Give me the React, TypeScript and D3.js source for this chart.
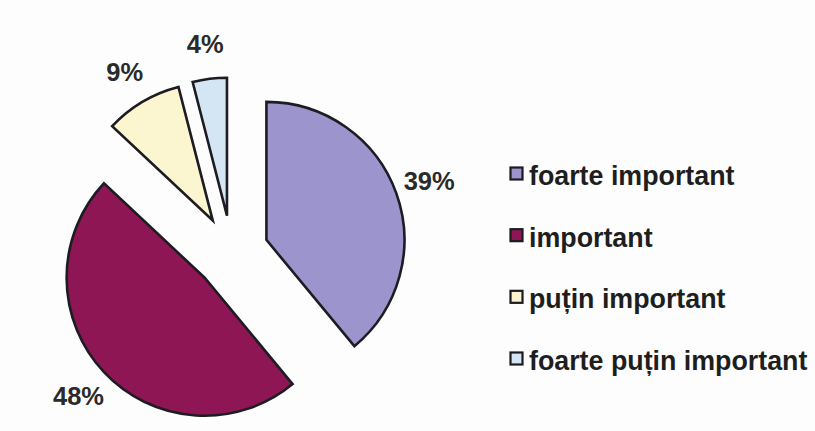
import React from "react";
import * as d3 from "d3";

const categories = ["foarte important", "important", "puțin important", "foarte puțin important"];
const values = [39, 48, 9, 4];
const colors = ["#9c94cc", "#8e1654", "#fbf6d0", "#d4e6f4"];

const W = 815;
const H = 431;
const cx = 231.6;
const cy = 252.4;
const R = 138;
const explode = 37;
const labelR = 210;

export default function App() {
  const pie = d3.pie<number>().sort(null).value((d) => d).startAngle(0).endAngle(2 * Math.PI);
  const arcs = pie(values);
  const arc = d3.arc<d3.PieArcDatum<number>>().innerRadius(0).outerRadius(R);
  const total = d3.sum(values);
  const fmt = (v: number) => `${Math.round((v / total) * 100)}%`;

  const legendY = d3.scaleLinear().domain([0, categories.length - 1]).range([185, 370]);

  return (
    <svg
      width={W}
      height={H}
      style={{ position: "absolute", left: 0, top: 0, display: "block", background: "#fdfdfd" }}
      fontFamily="'Liberation Sans', Arial, sans-serif"
      fontWeight="bold"
    >
      <rect x={0} y={0} width={W} height={H} fill="#fdfdfd" />
      <g transform={`translate(${cx},${cy})`}>
        {arcs.map((a, i) => {
          const mid = (a.startAngle + a.endAngle) / 2;
          const dx = explode * Math.sin(mid);
          const dy = -explode * Math.cos(mid);
          return (
            <path
              key={i}
              d={arc(a) || ""}
              transform={`translate(${dx},${dy})`}
              fill={colors[i]}
              stroke="#1c1c22"
              strokeWidth={2.6}
              strokeLinejoin="miter"
            />
          );
        })}
        {arcs.map((a, i) => {
          const mid = (a.startAngle + a.endAngle) / 2;
          const x = labelR * Math.sin(mid);
          const y = -labelR * Math.cos(mid);
          return (
            <text
              key={"l" + i}
              x={x}
              y={y}
              textAnchor="middle"
              dominantBaseline="central"
              fontSize={25.5}
              fill="#2a2a2a"
            >
              {fmt(a.data)}
            </text>
          );
        })}
      </g>
      <g>
        {categories.map((c, i) => {
          const by = legendY(i);
          return (
            <g key={c}>
              <rect
                x={510.5}
                y={by - 17.5}
                width={12}
                height={12}
                fill={colors[i]}
                stroke="#1c1c22"
                strokeWidth={2.2}
              />
              <text x={529} y={by} fontSize={26.8} fill="#1e1e1e">
                {c}
              </text>
            </g>
          );
        })}
      </g>
    </svg>
  );
}
